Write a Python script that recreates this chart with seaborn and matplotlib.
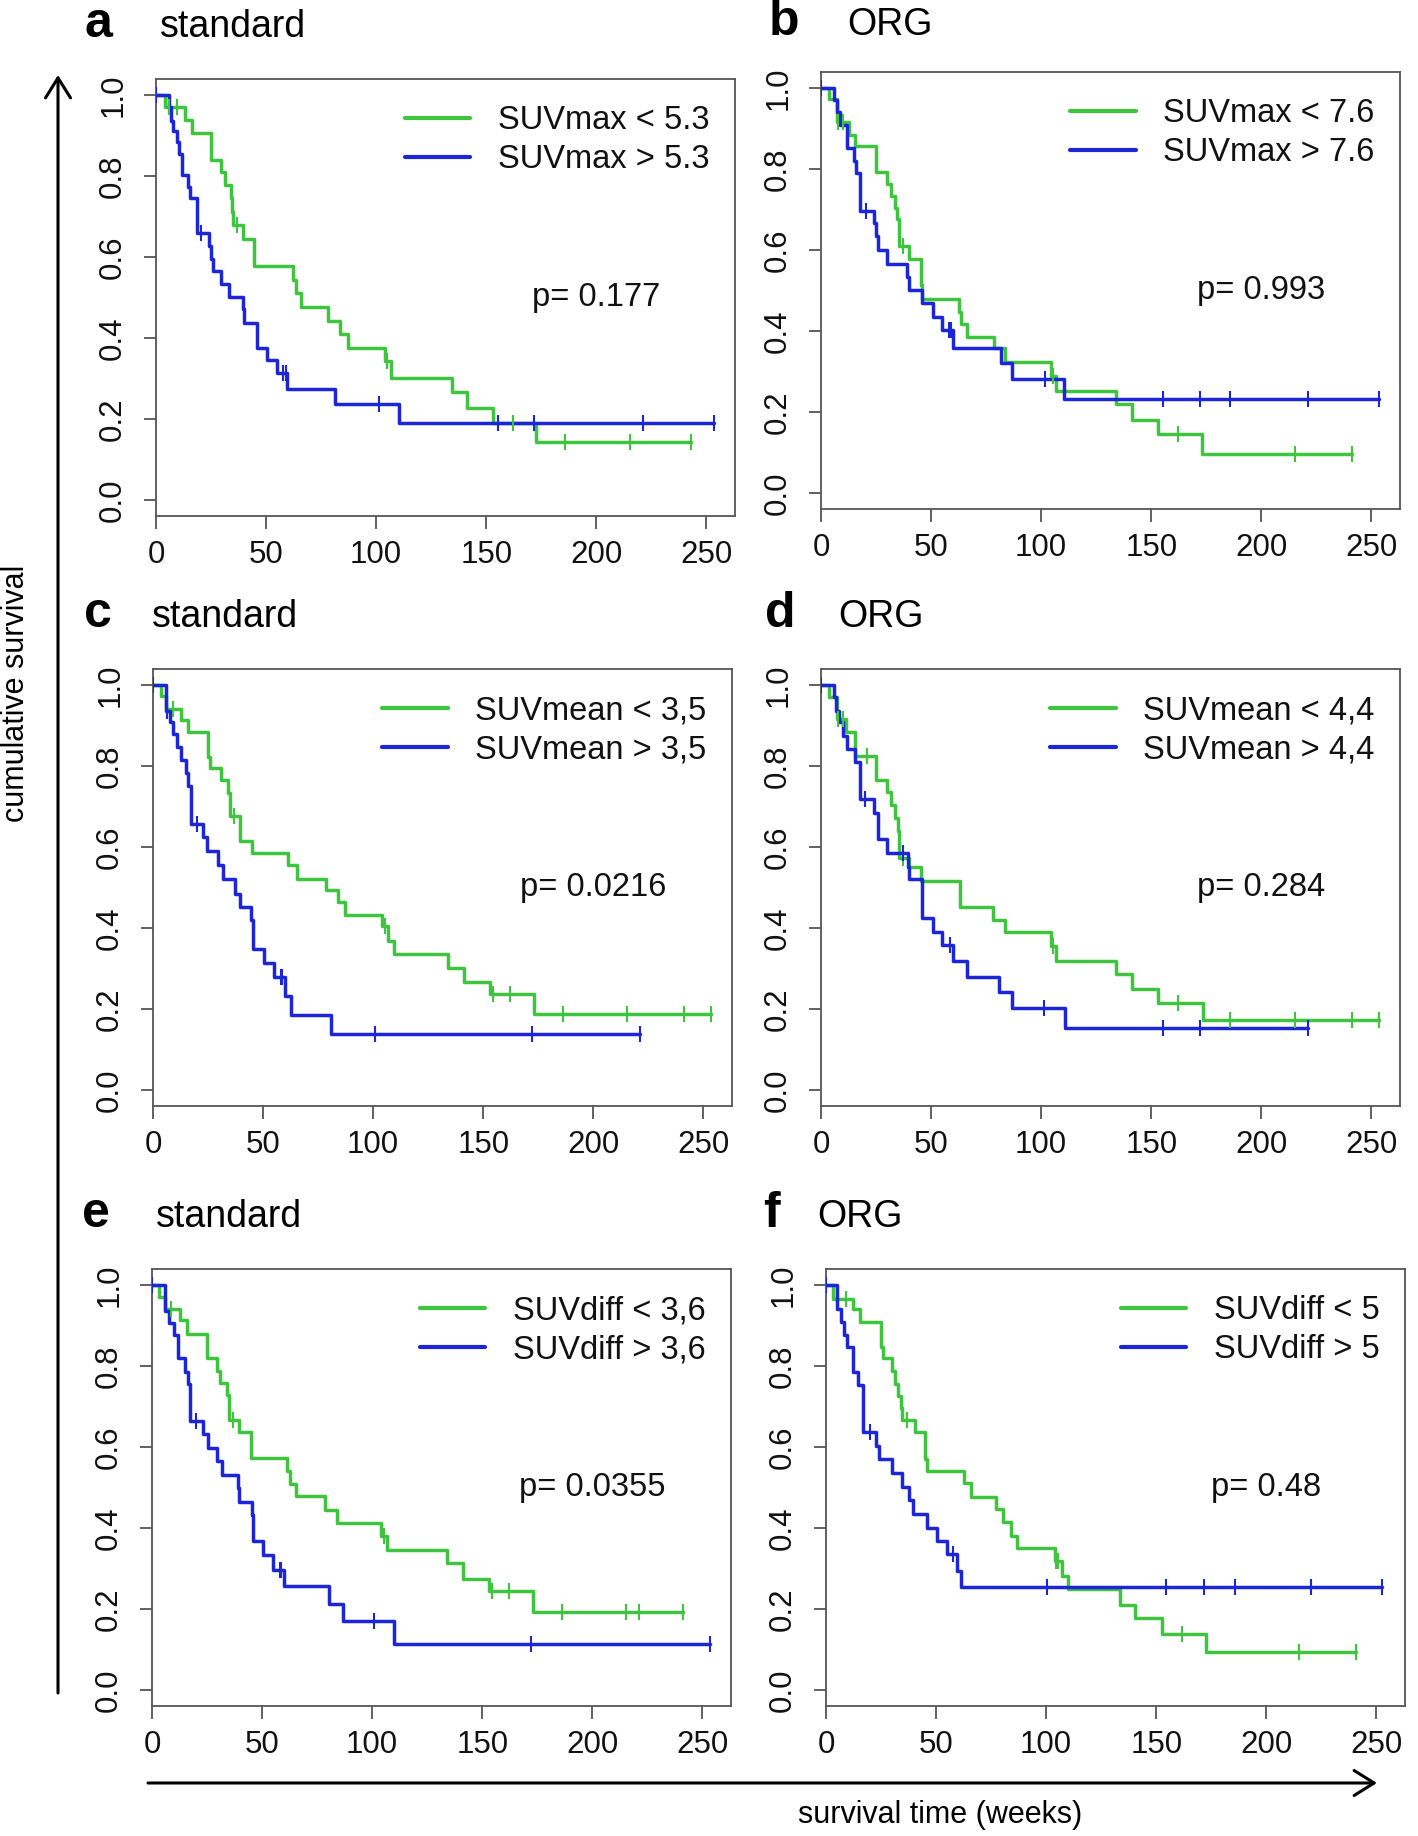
import numpy as np
import pandas as pd
import seaborn as sns
import matplotlib.pyplot as plt
from matplotlib.patches import FancyArrowPatch

GREEN = '#3fc43f'
BLUE = '#1c26d6'
W, H = 1418, 1836

# ---- data (weeks, survival) ----
# a: SUVmax, standard
a_low_t = [0, 4.0, 13.2, 16.2, 25.2, 29.7, 31.3, 33.9, 34.6, 35.2, 39.6, 44.5, 62.2, 63.5,
           65.7, 78.2, 83.4, 87.1, 104.0, 106.9, 134.4, 141.3, 153.0, 172.6]
a_low_s = [1.0, 0.971, 0.938, 0.906, 0.840, 0.810, 0.778, 0.745, 0.712, 0.680, 0.645, 0.578,
           0.544, 0.510, 0.476, 0.442, 0.409, 0.375, 0.342, 0.301, 0.267, 0.226, 0.189, 0.143]
a_low_c = [5.7, 9.6, 37.0, 104.8, 155.2, 162.2, 186.0, 215.2, 243.0]
a_high_t = [0, 5.7, 6.6, 7.8, 9.6, 10.6, 11.8, 14.4, 15.6, 18.4, 24.0, 24.9, 26.1, 29.7, 33.0,
            39.3, 40.0, 45.7, 50.6, 54.8, 59.6, 81.4, 110.4]
a_high_s = [1.0, 0.971, 0.936, 0.912, 0.884, 0.855, 0.802, 0.774, 0.745, 0.660, 0.627, 0.594,
            0.566, 0.533, 0.501, 0.472, 0.438, 0.375, 0.346, 0.314, 0.275, 0.236, 0.189]
a_high_c = [0, 20.5, 57.9, 59.0, 101.4, 155.2, 171.8, 221.3, 253.5]

# b: SUVmax, ORG
b_low_t = [0, 3.8, 7.3, 12.5, 15.6, 25.2, 29.9, 31.6, 33.4, 34.4, 35.3, 40.0, 45.2, 46.1, 62.6,
           63.8, 66.1, 78.6, 83.8, 104.3, 106.9, 133.9, 141.2, 153.0, 173.0]
b_low_s = [1.0, 0.974, 0.917, 0.884, 0.856, 0.793, 0.762, 0.733, 0.705, 0.676, 0.611, 0.578,
           0.513, 0.480, 0.448, 0.418, 0.385, 0.358, 0.323, 0.289, 0.252, 0.219, 0.179, 0.146, 0.097]
b_low_c = [7.8, 9.9, 37.4, 105.2, 162.0, 215.2, 241.3]
b_high_t = [0, 6.1, 7.3, 8.5, 11.8, 14.8, 16.0, 17.7, 24.0, 25.2, 26.1, 30.1, 39.1, 40.0, 46.1,
            50.9, 55.1, 60.0, 81.7, 86.9, 110.4]
b_high_s = [1.0, 0.970, 0.941, 0.910, 0.852, 0.819, 0.790, 0.697, 0.668, 0.635, 0.599, 0.566,
            0.533, 0.501, 0.468, 0.434, 0.403, 0.358, 0.321, 0.281, 0.233]
b_high_c = [0, 20.3, 58.2, 59.1, 101.7, 155.2, 172.1, 186.0, 221.1, 253.3]

# c: SUVmean, standard
c_low_t = [0, 3.5, 6.1, 12.7, 15.7, 24.9, 25.8, 30.8, 34.0, 34.8, 39.7, 44.8, 61.5, 65.3, 78.4,
           84.1, 87.1, 104.0, 106.8, 109.4, 134.1, 141.1, 153.3, 173.0]
c_low_s = [1.0, 0.974, 0.941, 0.913, 0.884, 0.823, 0.795, 0.766, 0.734, 0.677, 0.616, 0.586,
           0.555, 0.522, 0.493, 0.463, 0.432, 0.404, 0.367, 0.335, 0.300, 0.267, 0.237, 0.188]
c_low_c = [9.2, 36.6, 105.4, 154.5, 162.0, 186.4, 215.2, 241.3, 253.5]
c_high_t = [0, 6.1, 7.8, 9.2, 10.8, 12.7, 14.8, 15.7, 17.1, 22.6, 24.4, 29.6, 31.9, 37.1, 39.5,
            44.4, 45.6, 50.5, 54.9, 60.1, 62.7, 80.7]
c_high_s = [1.0, 0.937, 0.909, 0.880, 0.848, 0.815, 0.783, 0.750, 0.658, 0.624, 0.590, 0.555,
            0.522, 0.485, 0.453, 0.420, 0.347, 0.314, 0.278, 0.233, 0.186, 0.139]
c_high_c = [0, 6.4, 20.0, 58.0, 58.8, 101.0, 172.0, 221.3]

# d: SUVmean, ORG
d_low_t = [0, 3.8, 7.3, 11.5, 15.6, 25.2, 29.9, 31.6, 33.4, 34.8, 35.6, 40.0, 45.2, 63.1, 78.2,
           83.4, 104.3, 106.9, 133.9, 141.2, 153.0, 173.5]
d_low_s = [1.0, 0.970, 0.917, 0.885, 0.826, 0.765, 0.735, 0.704, 0.672, 0.639, 0.574, 0.550,
           0.517, 0.452, 0.420, 0.389, 0.355, 0.319, 0.287, 0.250, 0.214, 0.173]
d_low_c = [7.8, 9.9, 20.9, 37.4, 105.2, 162.0, 186.0, 215.2, 241.3, 253.3]
d_high_t = [0, 6.1, 7.0, 8.2, 9.9, 11.8, 15.3, 17.7, 24.3, 26.1, 30.1, 39.6, 40.0, 45.7, 50.9,
            55.1, 60.0, 66.1, 80.8, 86.9, 110.7]
d_high_s = [1.0, 0.970, 0.937, 0.908, 0.875, 0.842, 0.811, 0.718, 0.685, 0.620, 0.585, 0.550,
            0.521, 0.424, 0.391, 0.359, 0.318, 0.278, 0.242, 0.201, 0.152]
d_high_c = [0, 20.0, 37.4, 58.8, 101.2, 155.2, 172.1, 221.1]

# e: SUVdiff, standard
e_low_t = [0, 3.0, 6.1, 12.7, 15.7, 24.9, 29.6, 30.8, 34.0, 34.8, 39.7, 44.8, 61.5, 62.7, 65.3,
           78.4, 84.1, 104.0, 106.8, 134.1, 141.1, 153.3, 173.0]
e_low_s = [1.0, 0.970, 0.941, 0.913, 0.880, 0.821, 0.788, 0.758, 0.728, 0.668, 0.638, 0.572,
           0.542, 0.509, 0.478, 0.444, 0.413, 0.379, 0.346, 0.314, 0.275, 0.244, 0.193]
e_low_c = [8.7, 36.6, 105.4, 154.5, 162.0, 186.4, 215.2, 221.3, 241.3]
e_high_t = [0, 5.7, 7.8, 9.9, 11.8, 14.8, 16.2, 17.1, 23.2, 25.3, 29.3, 31.9, 38.9, 39.5, 45.6,
            46.0, 50.5, 54.9, 59.8, 80.5, 86.8, 109.8]
e_high_s = [1.0, 0.937, 0.907, 0.876, 0.819, 0.786, 0.755, 0.664, 0.632, 0.597, 0.565, 0.532,
            0.499, 0.465, 0.432, 0.367, 0.332, 0.297, 0.257, 0.212, 0.169, 0.114]
e_high_c = [0, 20.0, 58.0, 58.8, 101.0, 172.0, 253.5]

# f: SUVdiff, ORG
f_low_t = [0, 3.1, 12.3, 15.3, 24.9, 25.7, 30.1, 31.3, 32.7, 33.9, 34.4, 40.2, 44.9, 45.7, 62.8,
           65.7, 77.0, 80.5, 83.9, 86.6, 104.0, 107.4, 109.7, 133.5, 140.5, 152.6, 172.6]
f_low_s = [1.0, 0.967, 0.941, 0.910, 0.848, 0.819, 0.787, 0.756, 0.726, 0.697, 0.666, 0.636,
           0.571, 0.541, 0.510, 0.477, 0.446, 0.414, 0.379, 0.351, 0.318, 0.282, 0.249, 0.210,
           0.178, 0.139, 0.094]
f_low_c = [8.9, 36.7, 104.5, 105.5, 161.9, 214.7, 240.8]
f_high_t = [0, 4.9, 7.0, 8.0, 9.7, 12.2, 14.4, 17.0, 22.8, 24.0, 30.1, 34.4, 37.9, 39.6, 45.7,
            50.6, 54.8, 59.6, 61.4]
f_high_s = [1.0, 0.941, 0.909, 0.878, 0.848, 0.785, 0.754, 0.636, 0.603, 0.571, 0.536, 0.502,
            0.469, 0.435, 0.400, 0.367, 0.335, 0.294, 0.253]
f_high_c = [0, 20.0, 57.9, 100.5, 154.4, 171.8, 185.7, 220.4, 252.6]

letters = ['a', 'b', 'c', 'd', 'e', 'f']
groups = ['standard', 'ORG', 'standard', 'ORG', 'standard', 'ORG']
low_labels = ['SUVmax < 5.3', 'SUVmax < 7.6', 'SUVmean < 3,5', 'SUVmean < 4,4',
              'SUVdiff < 3,6', 'SUVdiff < 5']
high_labels = ['SUVmax > 5.3', 'SUVmax > 7.6', 'SUVmean > 3,5', 'SUVmean > 4,4',
               'SUVdiff > 3,6', 'SUVdiff > 5']
p_values = ['p= 0.177', 'p= 0.993', 'p= 0.0216', 'p= 0.284', 'p= 0.0355', 'p= 0.48']

curves = [
    ((a_low_t, a_low_s, a_low_c), (a_high_t, a_high_s, a_high_c)),
    ((b_low_t, b_low_s, b_low_c), (b_high_t, b_high_s, b_high_c)),
    ((c_low_t, c_low_s, c_low_c), (c_high_t, c_high_s, c_high_c)),
    ((d_low_t, d_low_s, d_low_c), (d_high_t, d_high_s, d_high_c)),
    ((e_low_t, e_low_s, e_low_c), (e_high_t, e_high_s, e_high_c)),
    ((f_low_t, f_low_s, f_low_c), (f_high_t, f_high_s, f_high_c)),
]

# panel boxes in pixels: left, top ; and label anchors
box_px = [(156, 79), (821, 72), (153, 669), (821, 669), (152, 1269), (826, 1269)]
letter_px = [(85, 37), (769, 35), (84, 627), (765, 627), (82, 1227), (763, 1227)]
group_px = [160, 847, 152, 838, 156, 817]
BOX_W, BOX_H = 579, 437

sns.set_theme(style='white')
plt.rcParams['font.family'] = ['Liberation Sans', 'DejaVu Sans']
plt.rcParams['text.color'] = 'black'

fig = plt.figure(figsize=(W / 100, H / 100), dpi=100)


def km_frame(t, s, c):
    end = max(t[-1], max(c))
    return pd.DataFrame({'t': list(t) + [end], 's': list(s) + [s[-1]]})


def surv_at(t, s, c):
    idx = np.searchsorted(np.array(t), np.array(c), side='right') - 1
    return np.array(s)[idx]


for i in range(6):
    left, top = box_px[i]
    ax = fig.add_axes([left / W, 1 - (top + BOX_H) / H, BOX_W / W, BOX_H / H])
    for (t, s, c), col, lab in zip(curves[i], [GREEN, BLUE], [low_labels[i], high_labels[i]]):
        df = km_frame(t, s, c)
        sns.lineplot(data=df, x='t', y='s', drawstyle='steps-post', color=col, lw=2.5,
                     label=lab, ax=ax, estimator=None, sort=False)
        sns.scatterplot(x=c, y=surv_at(t, s, c), marker='|', s=130, color=col,
                        linewidth=1.5, ax=ax, legend=False, zorder=3)
    ax.set_xlim(0, 263)
    ax.set_ylim(-0.04, 1.04)
    ax.set_xticks([0, 50, 100, 150, 200, 250])
    ax.set_yticks([0, 0.2, 0.4, 0.6, 0.8, 1.0])
    ax.set_yticklabels(['0.0', '0.2', '0.4', '0.6', '0.8', '1.0'])
    ax.set_xlabel('')
    ax.set_ylabel('')
    for sp in ax.spines.values():
        sp.set_color('#555555')
        sp.set_linewidth(1.3)
    ax.tick_params(axis='both', which='major', length=9, width=1.3, color='#555555',
                   labelsize=22.5, labelcolor='#111111', direction='out',
                   left=True, bottom=True)
    ax.tick_params(axis='x', pad=8)
    ax.tick_params(axis='y', pad=11)
    for lbl in ax.get_yticklabels():
        lbl.set_rotation(90)
        lbl.set_va('center')
    ax.text(200, 0.5, p_values[i], ha='center', va='center', fontsize=23.5, color='#111111')
    leg = ax.legend(loc='upper right', frameon=False, fontsize=23.5, handlelength=2.0,
                    handletextpad=0.85, labelspacing=0.25, borderaxespad=0.2,
                    bbox_to_anchor=(0.99, 0.985))
    for txt in leg.get_texts():
        txt.set_color('#111111')
    for ln in leg.get_lines():
        ln.set_linewidth(3.0)

    lx, ly = letter_px[i]
    fig.text(lx / W, 1 - ly / H, letters[i], fontsize=36, fontweight='bold', va='baseline')
    fig.text(group_px[i] / W, 1 - ly / H, groups[i], fontsize=27, va='baseline')

# axis arrows and shared labels
fig.add_artist(FancyArrowPatch((58 / W, 1 - 1693 / H), (58 / W, 1 - 75 / H),
                               transform=fig.transFigure, arrowstyle='->,head_length=0.4,head_width=0.25',
                               mutation_scale=36, lw=2.2, color='black', shrinkA=0, shrinkB=0))
fig.add_artist(FancyArrowPatch((148 / W, 1 - 1783 / H), (1377 / W, 1 - 1783 / H),
                               transform=fig.transFigure, arrowstyle='->,head_length=0.4,head_width=0.25',
                               mutation_scale=36, lw=2.2, color='black', shrinkA=0, shrinkB=0))
fig.text(16 / W, 1 - 693 / H, 'cumulative survival', rotation=90, fontsize=22,
         ha='center', va='center')
fig.text(940 / W, 1 - 1815 / H, 'survival time (weeks)', fontsize=22, ha='center', va='center')

plt.savefig('out.png', dpi=100)
